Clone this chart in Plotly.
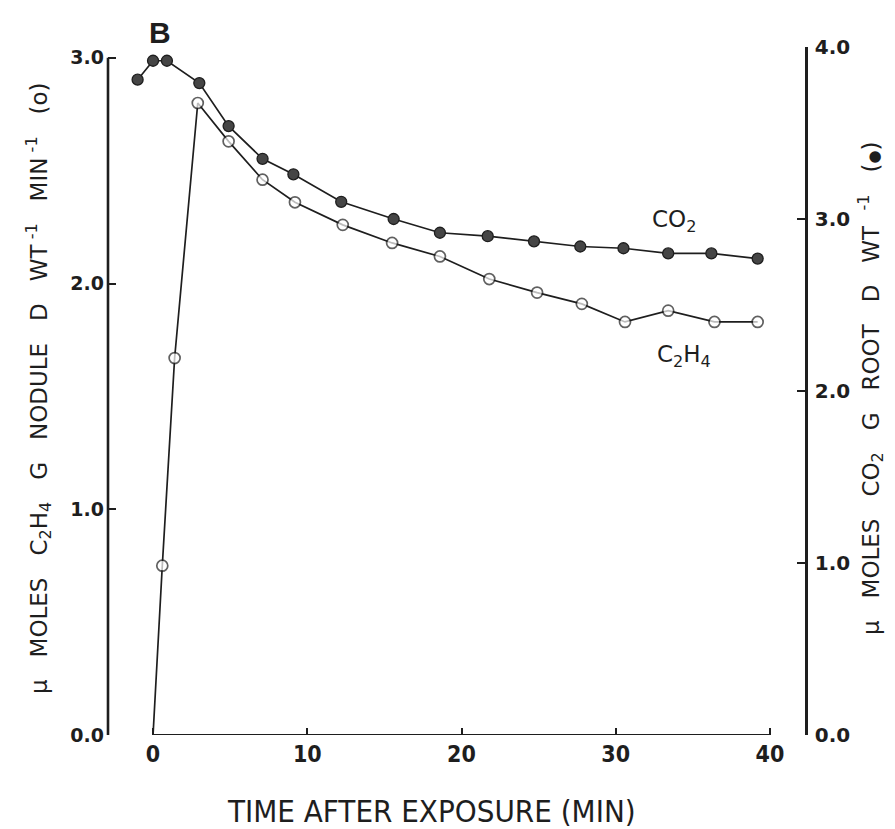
import plotly.graph_objects as go

# ---- data ----
c2h4_t = [0, 0.6, 1.4, 2.9, 4.9, 7.1, 9.2, 12.3, 15.5, 18.6, 21.8, 24.9, 27.8, 30.6, 33.4, 36.4, 39.2]
c2h4_v = [0.0, 0.75, 1.67, 2.80, 2.63, 2.46, 2.36, 2.26, 2.18, 2.12, 2.02, 1.96, 1.91, 1.83, 1.88, 1.83, 1.83]

co2_t = [-1.0, 0.0, 0.9, 3.0, 4.9, 7.1, 9.1, 12.2, 15.6, 18.6, 21.7, 24.7, 27.7, 30.5, 33.4, 36.2, 39.2]
co2_v = [3.81, 3.92, 3.92, 3.79, 3.54, 3.35, 3.26, 3.10, 3.00, 2.92, 2.90, 2.87, 2.84, 2.83, 2.80, 2.80, 2.77]

x_ticks = [0, 10, 20, 30, 40]
left_ticks = [0.0, 1.0, 2.0, 3.0]
right_ticks = [0.0, 1.0, 2.0, 3.0, 4.0]

# ---- layout geometry ----
W, H = 895, 829
ML, MR, MT, MB = 108, 90, 47, 94
x_range = [-2.92, 42.27]
left_range = [0, 3.048]
right_range = [0, 4.0]

INK = "#1e1e1e"
COND = "DejaVu Sans Condensed, Liberation Sans, sans-serif"
WIDE = "DejaVu Sans, sans-serif"
tick_font = dict(family=WIDE, size=19, color=INK, weight="bold")
num_font = dict(family=COND, size=23, color=INK, weight="bold")
title_font = dict(family=WIDE, size=23, color=INK)
NB = "\u00a0\u00a0"  # extra word spacing as in the typeset original

fig = go.Figure()

marker_sizes = [0] + [11] * (len(c2h4_t) - 1)
fig.add_trace(go.Scatter(
    x=c2h4_t, y=c2h4_v, mode="lines+markers", yaxis="y",
    line=dict(color=INK, width=1.7),
    marker=dict(symbol="circle", size=marker_sizes, color="white",
                line=dict(color=INK, width=1.7)),
    showlegend=False,
))
fig.add_trace(go.Scatter(
    x=co2_t, y=co2_v, mode="lines+markers", yaxis="y2",
    line=dict(color=INK, width=1.7),
    marker=dict(symbol="circle", size=11, color="#454545",
                line=dict(color=INK, width=1.3)),
    showlegend=False,
))

# x baseline from 0 to 40, left axis line from 0 to 3.0
fig.add_shape(type="line", xref="x", yref="y", x0=x_ticks[0], x1=x_ticks[-1], y0=0, y1=0,
              line=dict(color=INK, width=2.2))
fig.add_shape(type="line", xref="paper", yref="y", x0=0, x1=0, y0=left_ticks[0], y1=left_ticks[-1],
              line=dict(color=INK, width=2.6))

fig.update_layout(
    width=W, height=H,
    margin=dict(l=ML, r=MR, t=MT, b=MB),
    paper_bgcolor="white", plot_bgcolor="white",
    xaxis=dict(range=x_range, showgrid=False, zeroline=False, showline=False,
               tickmode="array", tickvals=x_ticks, ticktext=[str(v) for v in x_ticks],
               ticks="inside", ticklen=7, tickwidth=2, tickcolor=INK,
               tickfont=num_font, ticklabelstandoff=3),
    yaxis=dict(range=left_range, showgrid=False, zeroline=False, showline=False,
               tickmode="array", tickvals=left_ticks, ticktext=[f"{v:.1f}" for v in left_ticks],
               ticks="inside", ticklen=8, tickwidth=1.6, tickcolor=INK,
               tickfont=tick_font, ticklabelstandoff=3),
    yaxis2=dict(range=right_range, overlaying="y", side="right", showgrid=False,
                zeroline=False, showline=True, linecolor=INK, linewidth=2.6,
                tickmode="array", tickvals=right_ticks, ticktext=[f"{v:.1f}" for v in right_ticks],
                ticks="inside", ticklen=8, tickwidth=1.6, tickcolor=INK,
                tickfont=dict(tick_font, size=20), ticklabelstandoff=3),
)

PW = W - ML - MR
PH = H - MT - MB


def px_to_paper_x(px):
    return (px - ML) / PW


def px_to_paper_y(py):
    return (H - MB - py) / PH


left_title = NB.join(["μ", "MOLES", "C<sub>2</sub>H<sub>4</sub>", "G", "NODULE", "D",
                      "WT<sup> -1</sup>", "MIN<sup> -1</sup>", "(o)"])
left_title = left_title.replace(NB, " " + NB)
right_title = " ".join(["μ", "MOLES", "CO<sub>2</sub>", "G", "ROOT", "D", "WT<sup> -1</sup>",
                        "(<span style='font-size:15px'>●</span>)"])
right_title = right_title.replace(" ", " " + NB).replace("span" + " " + NB + "style", "span style")

annotations = [
    dict(text="<b>B</b>", x=px_to_paper_x(160), y=px_to_paper_y(32),
         font=dict(family="Liberation Sans", size=30, color=INK)),
    dict(text="CO<sub>2</sub>", x=px_to_paper_x(674), y=px_to_paper_y(221),
         font=dict(family=WIDE, size=23, color=INK)),
    dict(text="C<sub>2</sub>H<sub>4</sub>", x=px_to_paper_x(684), y=px_to_paper_y(356),
         font=dict(family=WIDE, size=23, color=INK)),
    dict(text="TIME AFTER EXPOSURE (MIN)", x=px_to_paper_x(431), y=px_to_paper_y(811),
         font=dict(family=COND, size=31, color=INK)),
    dict(text=left_title, x=px_to_paper_x(38), y=px_to_paper_y(388), textangle=-90,
         font=title_font),
    dict(text=right_title, x=px_to_paper_x(870), y=px_to_paper_y(388), textangle=-90,
         font=title_font),
]
for a in annotations:
    a.update(xref="paper", yref="paper", showarrow=False, xanchor="center", yanchor="middle")
fig.update_layout(annotations=annotations)

fig.write_html("out.html")
